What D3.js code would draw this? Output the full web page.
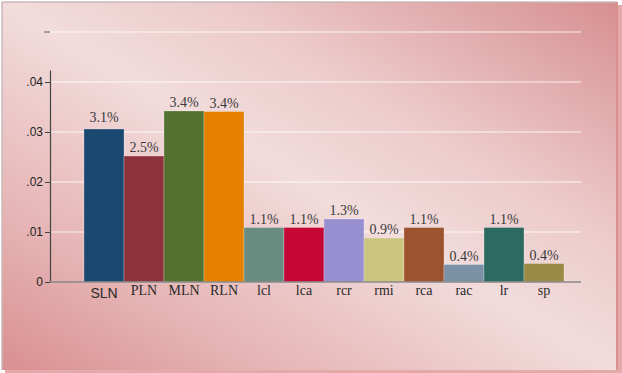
<!DOCTYPE html>
<html>
<head>
<meta charset="utf-8">
<script src="https://cdn.jsdelivr.net/npm/d3@7"></script>
<style>
  body { margin: 0; background: #fff; }
  svg { display: block; }
</style>
</head>
<body>
<script>
const categories = ["SLN", "PLN", "MLN", "RLN", "lcl", "lca", "rcr", "rmi", "rca", "rac", "lr", "sp"];
const values = [0.0306, 0.0252, 0.0342, 0.0341, 0.0109, 0.0109, 0.0126, 0.0088, 0.0109, 0.0035, 0.0109, 0.0037];
const valueLabels = ["3.1%", "2.5%", "3.4%", "3.4%", "1.1%", "1.1%", "1.3%", "0.9%", "1.1%", "0.4%", "1.1%", "0.4%"];
const colors = ["#1b4870", "#8e333c", "#53722f", "#e58000", "#6a8c80", "#c40735", "#978fd0", "#ccc47f", "#9d5230", "#7b91a6", "#2d6b62", "#9b8a45"];
const yTicks = [0, 0.01, 0.02, 0.03, 0.04];
const gridTicks = [0.01, 0.02, 0.03, 0.04, 0.05];

const W = 622, H = 373;
const svg = d3.select("body").append("svg").attr("width", W).attr("height", H);

// background gradient: dark at top-right and bottom-left, light across the middle
const defs = svg.append("defs");
const grad = defs.append("linearGradient")
  .attr("id", "bg")
  .attr("x1", "0%").attr("y1", "100%")
  .attr("x2", "100%").attr("y2", "0%");
grad.append("stop").attr("offset", "0%").attr("stop-color", "#d98f90");
grad.append("stop").attr("offset", "22%").attr("stop-color", "#e6b5b5");
grad.append("stop").attr("offset", "50%").attr("stop-color", "#f2dcdc");
grad.append("stop").attr("offset", "68%").attr("stop-color", "#eccaca");
grad.append("stop").attr("offset", "100%").attr("stop-color", "#d78f90");

// shadow strip on right / bottom
svg.append("rect")
  .attr("x", 5).attr("y", 5).attr("width", W - 5).attr("height", H - 5)
  .attr("fill", "#e4a9a9");
svg.append("rect")
  .attr("x", 2).attr("y", 2).attr("width", 615).attr("height", 368)
  .attr("fill", "url(#bg)");
svg.append("line").attr("x1", 2).attr("x2", 617).attr("y1", 2).attr("y2", 2)
  .attr("stroke", "#c8b8b8").attr("stroke-width", 1.5);
svg.append("line").attr("x1", 2).attr("x2", 2).attr("y1", 2).attr("y2", 370)
  .attr("stroke", "#c8b8b8").attr("stroke-width", 1.5);
svg.append("line").attr("x1", 617).attr("x2", 617).attr("y1", 2).attr("y2", 370)
  .attr("stroke", "#d99090").attr("stroke-width", 2);

const y = d3.scaleLinear().domain([0, 0.05]).range([282, 32]);
const x = d3.scaleBand().domain(categories).range([84, 564]).padding(0);

const axisLeftX = 50, axisRightX = 581;

// gridlines
svg.append("g")
  .selectAll("line")
  .data(gridTicks)
  .enter()
  .append("line")
  .attr("x1", axisLeftX)
  .attr("x2", axisRightX)
  .attr("y1", d => y(d))
  .attr("y2", d => y(d))
  .attr("stroke", "rgba(255,255,255,0.55)")
  .attr("stroke-width", 1.5);

// lone tick at the top gridline
svg.append("line")
  .attr("x1", axisLeftX - 6).attr("x2", axisLeftX)
  .attr("y1", y(0.05)).attr("y2", y(0.05))
  .attr("stroke", "#888").attr("stroke-width", 1.5);

// bars
svg.append("g")
  .selectAll("rect")
  .data(categories)
  .enter()
  .append("rect")
  .attr("x", d => x(d))
  .attr("y", (d, i) => y(values[i]))
  .attr("width", x.bandwidth())
  .attr("height", (d, i) => y(0) - y(values[i]))
  .attr("fill", (d, i) => colors[i])
  .attr("stroke", "rgba(255,255,255,0.25)")
  .attr("stroke-width", 1);

// value labels
svg.append("g")
  .selectAll("text")
  .data(categories)
  .enter()
  .append("text")
  .attr("x", d => x(d) + x.bandwidth() / 2)
  .attr("y", (d, i) => y(values[i]) - (i === 0 ? 7 : 4))
  .attr("text-anchor", "middle")
  .style("font-family", "'Liberation Serif', 'Times New Roman', serif")
  .style("font-size", "14px")
  .attr("fill", "#3a3a3a")
  .text((d, i) => valueLabels[i]);

// y axis
const yAxisScale = y.copy().domain([0, 0.0424]).range([282, 70]);
const yAxis = svg.append("g")
  .attr("transform", `translate(${axisLeftX},0)`)
  .call(d3.axisLeft(yAxisScale)
    .tickValues(yTicks)
    .tickSize(5)
    .tickSizeOuter(0)
    .tickFormat(d => d === 0 ? "0" : d3.format(".2f")(d).replace(/^0/, "")));
yAxis.select(".domain").attr("stroke", "#444").attr("stroke-width", 1.2);
yAxis.selectAll(".tick line").attr("stroke", "#444");
yAxis.selectAll(".tick text")
  .attr("x", -7)
  .attr("dy", "0.32em")
  .style("font-family", "'Liberation Sans', Arial, sans-serif")
  .style("font-size", "12px")
  .attr("fill", "#222");

// x axis
svg.append("line")
  .attr("x1", axisLeftX).attr("x2", axisRightX)
  .attr("y1", y(0)).attr("y2", y(0))
  .attr("stroke", "#888").attr("stroke-width", 1.5);

svg.append("g")
  .selectAll("text")
  .data(categories)
  .enter()
  .append("text")
  .attr("x", d => x(d) + x.bandwidth() / 2)
  .attr("y", (d, i) => i === 0 ? 298 : 295)
  .attr("text-anchor", "middle")
  .style("font-family", (d, i) => i === 0 ? "'Liberation Sans', Arial, sans-serif" : "'Liberation Serif', 'Times New Roman', serif")
  .style("font-size", "14px")
  .attr("fill", "#2a2a2a")
  .text(d => d);
</script>
</body>
</html>
